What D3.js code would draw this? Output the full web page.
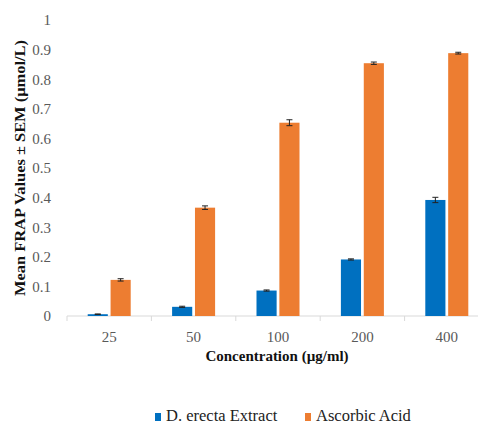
<!DOCTYPE html>
<html>
<head>
<meta charset="utf-8">
<script src="https://cdn.jsdelivr.net/npm/d3@7/dist/d3.min.js"></script>
<style>
  body { margin: 0; background: #fff; }
  svg { font-family: "Liberation Serif", "Times New Roman", serif; }
</style>
</head>
<body>
<div id="chart"></div>
<script>
// Data
const concentrations = ["25", "50", "100", "200", "400"];
const seriesNames = ["D. erecta Extract", "Ascorbic Acid"];
const extractValues = [0.006, 0.031, 0.086, 0.191, 0.392];
const extractErrors = [0.001, 0.002, 0.002, 0.002, 0.009];
const ascorbicValues = [0.122, 0.366, 0.653, 0.854, 0.888];
const ascorbicErrors = [0.004, 0.006, 0.010, 0.004, 0.003];
const yTicks = [0, 0.1, 0.2, 0.3, 0.4, 0.5, 0.6, 0.7, 0.8, 0.9, 1];

const width = 478;
const height = 425;
const colors = ["#0070C0", "#ED7D31"];
const serif = '"Liberation Serif", "Times New Roman", serif';

const margin = { left: 67, top: 20, bottom: 109 };
const plotRight = 489;

const svg = d3.select("#chart").append("svg")
    .attr("width", width)
    .attr("height", height);

// Scales
const x = d3.scaleBand()
    .domain(concentrations)
    .range([margin.left, plotRight]);

const xInner = d3.scaleBand()
    .domain(seriesNames)
    .range([0, 43])
    .paddingInner(0.12);

const y = d3.scaleLinear()
    .domain([0, 1])
    .range([height - margin.bottom, margin.top]);

const rows = concentrations.map((c, i) => ({
    c: c,
    bars: [
        { name: seriesNames[0], v: extractValues[i], e: extractErrors[i] },
        { name: seriesNames[1], v: ascorbicValues[i], e: ascorbicErrors[i] }
    ]
}));

// Y axis labels (no line)
const yAxis = svg.append("g")
    .attr("transform", `translate(${margin.left - 13},0)`)
    .call(d3.axisLeft(y).tickValues(yTicks).tickSize(0).tickFormat(d3.format("~g")));
yAxis.select(".domain").remove();
yAxis.selectAll("text")
    .attr("fill", "#595959")
    .style("font-family", serif)
    .style("font-size", "15px");

// X axis line with ticks at band edges
const baseY = y(0);
svg.append("line")
    .attr("x1", margin.left).attr("x2", width)
    .attr("y1", baseY).attr("y2", baseY)
    .attr("stroke", "#d9d9d9").attr("stroke-width", 1);

svg.selectAll(".xtick")
    .data(concentrations)
    .enter().append("line")
    .attr("x1", d => x(d)).attr("x2", d => x(d))
    .attr("y1", baseY).attr("y2", baseY + 5)
    .attr("stroke", "#d9d9d9");

svg.selectAll(".xlabel")
    .data(concentrations)
    .enter().append("text")
    .attr("x", d => x(d) + x.bandwidth() / 2)
    .attr("y", baseY + 26)
    .attr("text-anchor", "middle")
    .attr("fill", "#595959")
    .style("font-size", "15px")
    .text(d => d);

// Bars
const groups = svg.selectAll(".group")
    .data(rows)
    .enter().append("g")
    .attr("transform", d => `translate(${x(d.c) + (x.bandwidth() - 43) / 2},0)`);

groups.selectAll("rect")
    .data(d => d.bars)
    .enter().append("rect")
    .attr("x", d => xInner(d.name))
    .attr("width", xInner.bandwidth())
    .attr("y", d => y(d.v))
    .attr("height", d => y(0) - y(d.v))
    .attr("fill", (d, i) => colors[i]);

// Error bars
const err = groups.selectAll(".err")
    .data(d => d.bars)
    .enter().append("g")
    .attr("stroke", "#222")
    .attr("stroke-width", 1);

err.append("line")
    .attr("x1", d => xInner(d.name) + xInner.bandwidth() / 2)
    .attr("x2", d => xInner(d.name) + xInner.bandwidth() / 2)
    .attr("y1", d => y(d.v - d.e))
    .attr("y2", d => y(d.v + d.e));

err.append("line")
    .attr("x1", d => xInner(d.name) + xInner.bandwidth() / 2 - 3)
    .attr("x2", d => xInner(d.name) + xInner.bandwidth() / 2 + 3)
    .attr("y1", d => y(d.v + d.e))
    .attr("y2", d => y(d.v + d.e));

err.append("line")
    .attr("x1", d => xInner(d.name) + xInner.bandwidth() / 2 - 3)
    .attr("x2", d => xInner(d.name) + xInner.bandwidth() / 2 + 3)
    .attr("y1", d => y(d.v - d.e))
    .attr("y2", d => y(d.v - d.e));

// Axis titles
svg.append("text")
    .attr("x", 277)
    .attr("y", baseY + 45)
    .attr("text-anchor", "middle")
    .attr("font-weight", "bold")
    .style("font-size", "15px")
    .attr("fill", "#111")
    .text("Concentration (µg/ml)");

svg.append("text")
    .attr("transform", "translate(25,168) rotate(-90)")
    .attr("text-anchor", "middle")
    .attr("font-weight", "bold")
    .style("font-size", "15px")
    .attr("textLength", 256)
    .attr("lengthAdjust", "spacingAndGlyphs")
    .attr("fill", "#111")
    .text("Mean FRAP Values ± SEM (µmol/L)");

// Legend
const legendX = [155, 305];
const legend = svg.selectAll(".legend")
    .data(seriesNames)
    .enter().append("g")
    .attr("transform", (d, i) => `translate(${legendX[i]},410)`);

legend.append("rect")
    .attr("width", 6).attr("height", 8)
    .attr("y", 3)
    .attr("fill", (d, i) => colors[i]);

legend.append("text")
    .attr("x", 11)
    .attr("y", 11)
    .style("font-size", "16.5px")
    .attr("fill", "#222")
    .text(d => d);
</script>
</body>
</html>
